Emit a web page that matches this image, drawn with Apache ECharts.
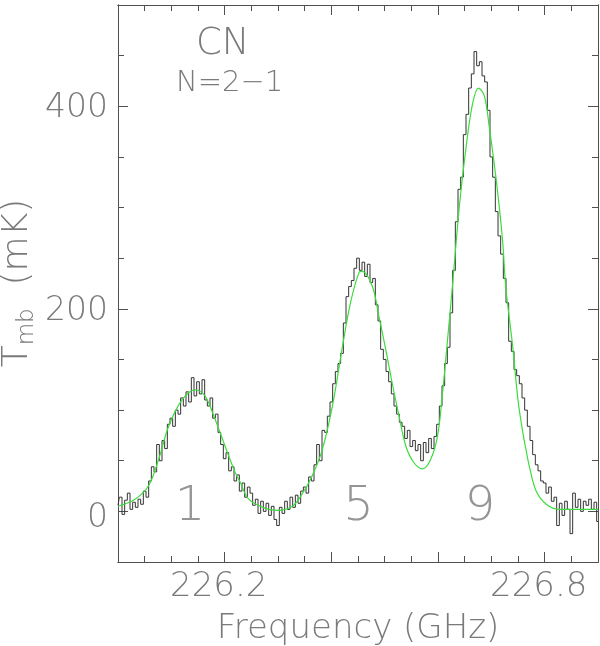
<!DOCTYPE html>
<html>
<head>
<meta charset="utf-8">
<script src="https://cdn.jsdelivr.net/npm/echarts@6/dist/echarts.min.js"></script>
<style>
  html, body { margin: 0; padding: 0; background: #fff; }
  #chart { width: 600px; height: 646px; }
</style>
</head>
<body>
<div id="chart"></div>
<script>
// observed spectrum, one value per 5 MHz channel starting at 226.000 GHz (mK)
const freqStart = 226.0
const freqStep = 0.005
const tmbObserved = [
  6, 14, -3, 11, 18, 2, 9, 4, 12, 7,
  20, 14, 30, 44, 39, 66, 50, 70, 62, 86,
  92, 84, 100, 96, 112, 104, 118, 108, 132, 114,
  128, 116, 130, 110, 104, 112, 92, 96, 78, 66,
  52, 58, 40, 44, 30, 36, 20, 28, 14, 24,
  18, 6, 12, -2, 10, 0, 8, -4, 5, -8,
  -14, 4, -2, 10, 2, 14, 4, 16, 8, 20,
  24, 18, 34, 30, 46, 66, 50, 80, 78, 94,
  108, 126, 138, 146, 156, 186, 212, 222, 228, 240,
  250, 238, 246, 232, 244, 226, 230, 204, 188, 160,
  150, 138, 128, 116, 104, 96, 88, 84, 72, 80,
  64, 70, 60, 66, 50, 68, 58, 72, 62, 74,
  86, 104, 124, 146, 162, 196, 238, 286, 318, 330,
  372, 392, 418, 432, 454, 440, 444, 430, 424, 396,
  350, 330, 296, 272, 254, 230, 206, 168, 158, 140,
  134, 126, 112, 100, 84, 70, 56, 46, 40, 30,
  28, 18, 24, 10, 14, -14, 8, -4, 10, 2,
  -22, 18, 4, 12, 0, 10, 6, 12, 2, 9,
  -10
]

// hyperfine fit (green curve)
const fitFreq = [226.000, 226.032, 226.057, 226.076, 226.095, 226.120, 226.145, 226.163, 226.182, 226.201,
  226.220, 226.229, 226.245, 226.276, 226.301, 226.327, 226.345, 226.364, 226.383, 226.402,
  226.420, 226.436, 226.452, 226.458, 226.477, 226.489, 226.502, 226.514, 226.527, 226.540,
  226.555, 226.571, 226.586, 226.599, 226.608, 226.615, 226.627, 226.640, 226.652, 226.665,
  226.676, 226.687, 226.696, 226.709, 226.721, 226.727, 226.740, 226.750, 226.759, 226.765,
  226.771, 226.784, 226.803, 226.827, 226.900]
const fitTmb = [5, 12, 25, 51, 84, 110, 120, 114, 91, 64,
  38, 29, 12, 3, 1, 5, 17, 35, 61, 104,
  160, 206, 236, 237, 222, 193, 160, 127, 94, 64,
  48, 42, 51, 74, 114, 153, 222, 301, 357, 403,
  418, 410, 380, 328, 268, 222, 163, 110, 78, 61,
  45, 20, 7, 2, 2]

// component groups marked under the peaks
const groupNames = ['1', '5', '9']
const groupFreq = [226.135, 226.451, 226.679]
const groupTmb = [4, 4, 4]

const xMajorTicks = [226.0, 226.2, 226.4, 226.6, 226.8]
const xTickLabels = [226.2, 226.8]
const yMajorTicks = [0, 200, 400]
const yTickLabels = [0, 200, 400]

const FONT = 'DejaVu Sans'
const WEIGHT = 200
const TEXT_COLOR = '#7a7a7a'
const FRAME_COLOR = '#505050'

const chart = echarts.init(document.getElementById('chart'))

const obsData = tmbObserved.map((v, i) => [+(freqStart + i * freqStep).toFixed(3), v])
const fitData = fitFreq.map((f, i) => [f, fitTmb[i]])
const groupData = groupNames.map((n, i) => ({ name: n, value: [groupFreq[i], groupTmb[i]] }))

const labelFont = { fontFamily: FONT, fontWeight: WEIGHT, fontSize: 33, color: TEXT_COLOR }

function xAx (position, major) {
  return {
    type: 'value',
    position: position,
    min: 226.0,
    max: 226.9,
    interval: 0.05,
    axisLine: { show: true, onZero: false, lineStyle: { color: FRAME_COLOR, width: 1 } },
    axisTick: major
      ? { show: true, inside: true, length: 10, customValues: xMajorTicks, lineStyle: { color: FRAME_COLOR } }
      : { show: true, inside: true, length: 6, lineStyle: { color: FRAME_COLOR } },
    axisLabel: (major && position === 'bottom')
      ? {
          show: true,
          customValues: xTickLabels,
          formatter: v => v.toFixed(1),
          fontFamily: FONT,
          fontWeight: WEIGHT,
          fontSize: 34,
          color: TEXT_COLOR,
          margin: 8,
          padding: [0, 12, 0, 0]
        }
      : { show: false },
    splitLine: { show: false }
  }
}

function yAx (position, major) {
  return {
    type: 'value',
    position: position,
    min: -50,
    max: 500,
    interval: 50,
    axisLine: { show: true, onZero: false, lineStyle: { color: FRAME_COLOR, width: 1 } },
    axisTick: major
      ? { show: true, inside: true, length: 10, customValues: yMajorTicks, lineStyle: { color: FRAME_COLOR } }
      : { show: true, inside: true, length: 6, lineStyle: { color: FRAME_COLOR } },
    axisLabel: (major && position === 'left')
      ? {
          show: true,
          customValues: yTickLabels,
          // the zero label sits a little lower than its tick in the original
          formatter: v => (v === 0 ? '{z|0}' : '{n|' + v + '}'),
          margin: 10,
          rich: {
            z: Object.assign({ padding: [14, 0, 0, 0] }, labelFont),
            n: Object.assign({ padding: [5, 0, 0, 0] }, labelFont)
          }
        }
      : { show: false },
    splitLine: { show: false }
  }
}

const option = {
  animation: false,
  backgroundColor: '#ffffff',
  grid: { left: 118, right: 2, top: 5, bottom: 84, containLabel: false, outerBoundsMode: 'none' },
  xAxis: [
    Object.assign(xAx('bottom', false), {
      name: 'Frequency (GHz)',
      nameLocation: 'middle',
      nameGap: 50,
      nameTextStyle: { fontFamily: FONT, fontWeight: WEIGHT, fontSize: 34, color: TEXT_COLOR }
    }),
    xAx('bottom', true),
    xAx('top', false),
    xAx('top', true)
  ],
  yAxis: [
    yAx('left', false),
    yAx('left', true),
    yAx('right', false),
    yAx('right', true)
  ],
  graphic: [
    {
      type: 'text',
      left: 196,
      top: 26,
      style: { text: 'CN', fontFamily: FONT, fontWeight: WEIGHT, fontSize: 37, fill: TEXT_COLOR }
    },
    {
      type: 'text',
      left: 176,
      top: 69,
      style: { text: 'N=2−1', fontFamily: FONT, fontWeight: WEIGHT, fontSize: 29, fill: TEXT_COLOR }
    },
    {
      type: 'text',
      x: 18,
      y: 283,
      rotation: Math.PI / 2,
      style: {
        text: '{t|T}{s|mb}{t|  (mK)}',
        align: 'center',
        verticalAlign: 'middle',
        fill: TEXT_COLOR,
        rich: {
          t: { fontFamily: FONT, fontWeight: WEIGHT, fontSize: 36, fill: TEXT_COLOR, lineHeight: 42 },
          s: { fontFamily: FONT, fontWeight: WEIGHT, fontSize: 23, fill: TEXT_COLOR, verticalAlign: 'bottom', padding: [14, 0, 0, 0] }
        }
      }
    }
  ],
  series: [
    {
      name: 'observed',
      type: 'line',
      step: 'middle',
      xAxisIndex: 0,
      yAxisIndex: 0,
      data: obsData,
      symbol: 'none',
      lineStyle: { color: '#333333', width: 1 },
      z: 2
    },
    {
      name: 'fit',
      type: 'line',
      smooth: 0.35,
      xAxisIndex: 0,
      yAxisIndex: 0,
      data: fitData,
      symbol: 'none',
      lineStyle: { color: '#3ddc3d', width: 1.2 },
      z: 3
    },
    {
      name: 'groups',
      type: 'scatter',
      xAxisIndex: 0,
      yAxisIndex: 0,
      data: groupData,
      symbolSize: 1,
      itemStyle: { color: 'rgba(0,0,0,0)' },
      label: {
        show: true,
        position: 'inside',
        formatter: p => p.name,
        fontFamily: FONT,
        fontWeight: WEIGHT,
        fontSize: 48,
        color: TEXT_COLOR
      },
      z: 4
    }
  ]
}

chart.setOption(option)
</script>
</body>
</html>
